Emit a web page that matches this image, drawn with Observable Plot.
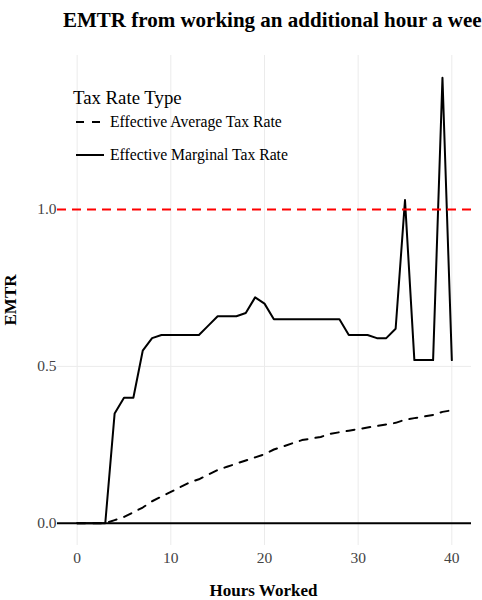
<!DOCTYPE html>
<html><head><meta charset="utf-8">
<script src="https://cdn.jsdelivr.net/npm/d3@7"></script>
<script src="https://cdn.jsdelivr.net/npm/@observablehq/plot@0.6"></script>
<style>
html,body{margin:0;padding:0;background:#fff;overflow:hidden;}
#wrap{position:relative;width:482px;height:600px;overflow:hidden;font-family:"Liberation Serif","Times New Roman",Times,"DejaVu Serif",serif;}
#wrap svg{position:absolute;left:0;top:0;}
#wrap svg text{font-family:"Liberation Serif","Times New Roman",Times,"DejaVu Serif",serif !important;}
</style></head><body><div id="wrap"></div>
<script>
const hours = [0,1,2,3,4,5,6,7,8,9,10,11,12,13,14,15,16,17,18,19,20,21,22,23,24,25,26,27,28,29,30,31,32,33,34,35,36,37,38,39,40];
const marginal = [0,0,0,0,0.35,0.40,0.40,0.55,0.59,0.60,0.60,0.60,0.60,0.60,0.63,0.66,0.66,0.66,0.67,0.72,0.70,0.65,0.65,0.65,0.65,0.65,0.65,0.65,0.65,0.60,0.60,0.60,0.59,0.59,0.62,1.03,0.52,0.52,0.52,1.42,0.52];
const average = [0,0,0,0,0.01,0.02,0.035,0.05,0.07,0.085,0.10,0.115,0.13,0.14,0.155,0.17,0.18,0.19,0.20,0.21,0.22,0.235,0.245,0.255,0.265,0.27,0.275,0.285,0.29,0.295,0.30,0.305,0.31,0.315,0.32,0.33,0.335,0.34,0.345,0.355,0.36];
const seriesNames = ["Effective Average Tax Rate","Effective Marginal Tax Rate"];
const xTicks = [0,10,20,30,40];
const yTicks = [0,0.5,1.0];
const referenceLine = [1.0];
const baseLine = [0];
const titleText = "EMTR from working an additional hour a week";
const xLabel = "Hours Worked";
const yLabel = "EMTR";
const legendTitle = "Tax Rate Type";
const serif = '"Liberation Serif","Times New Roman",Times,"DejaVu Serif",serif';

const avgRows = hours.map((h,i)=>({hour:h, value:average[i]}));
const margRows = hours.map((h,i)=>({hour:h, value:marginal[i]}));

const chart = Plot.plot({
  width:482, height:600,
  marginTop:55, marginBottom:55, marginLeft:57, marginRight:11,
  x:{domain:[-2.1,42.1]},
  y:{domain:[-0.071,1.491]},
  style:{fontFamily:serif, fontSize:"15.5px", color:"#444", background:"transparent", overflow:"visible"},
  marks:[
    Plot.gridX(xTicks,{stroke:"#ebebeb",strokeOpacity:1,strokeWidth:1}),
    Plot.gridY([0.5],{stroke:"#ebebeb",strokeOpacity:1,strokeWidth:1}),
    Plot.axisX({ticks:xTicks,tickSize:0,tickPadding:6,label:null,tickFormat:d=>String(d)}),
    Plot.axisY({ticks:yTicks,tickSize:0,tickPadding:1,label:null,tickFormat:d3.format(".1f")}),
    Plot.line(avgRows,{x:"hour",y:"value",stroke:"#000",strokeWidth:2,strokeDasharray:"8,8"}),
    Plot.line(margRows,{x:"hour",y:"value",stroke:"#000",strokeWidth:2}),
    Plot.ruleY(baseLine,{stroke:"#000",strokeWidth:2}),
    Plot.ruleY(referenceLine,{stroke:"#ff0000",strokeWidth:2,strokeDasharray:"9,6"})
  ]
});
const wrap = document.getElementById("wrap");
wrap.appendChild(chart);

const ov = d3.select(wrap).append("svg").attr("width",482).attr("height",600)
  .style("font-family",serif).style("overflow","hidden");
ov.append("text").attr("x",63).attr("y",27).attr("font-size",21).attr("font-weight","bold").attr("fill","#000").text(titleText);
ov.append("text").attr("x",263.5).attr("y",596).attr("text-anchor","middle").attr("font-size",17).attr("font-weight","bold").attr("fill","#000").text(xLabel);
ov.append("text").attr("transform","translate(16,300) rotate(-90)").attr("text-anchor","middle").attr("font-size",17).attr("font-weight","bold").attr("fill","#000").text(yLabel);

ov.append("text").attr("x",73).attr("y",104).attr("font-size",18.8).attr("fill","#000").text(legendTitle);
const legY = [122,155];
const dashes = ["8,8",null];
seriesNames.forEach((name,i)=>{
  const l = ov.append("line").attr("x1",76).attr("x2",104).attr("y1",legY[i]).attr("y2",legY[i])
    .attr("stroke","#000").attr("stroke-width",2);
  if (dashes[i]) l.attr("stroke-dasharray",dashes[i]);
  ov.append("text").attr("x",110).attr("y",legY[i]+5).attr("font-size",15.7).attr("fill","#000").text(name);
});
</script></body></html>
